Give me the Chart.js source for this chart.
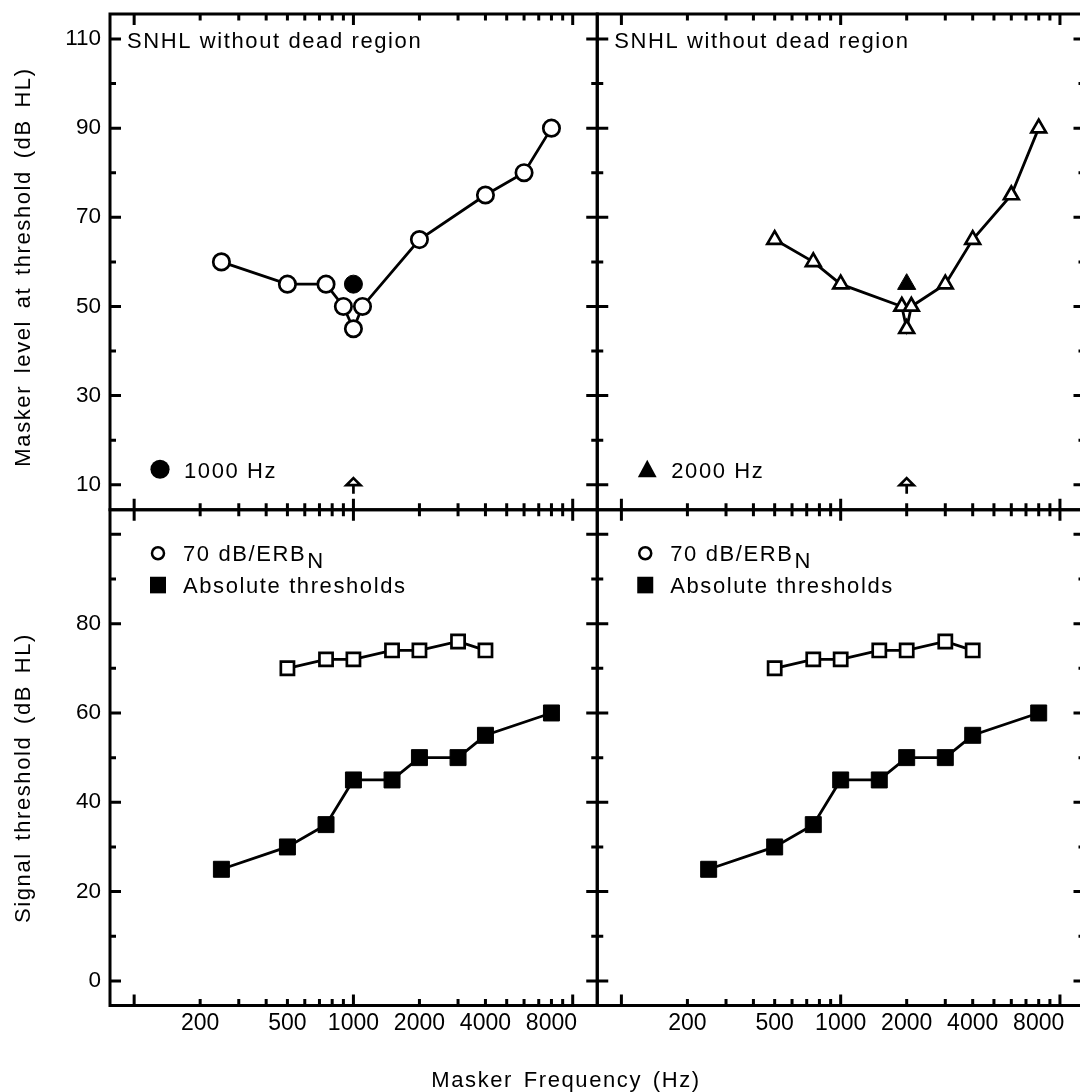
<!DOCTYPE html>
<html><head><meta charset="utf-8">
<script src="https://cdn.jsdelivr.net/npm/chart.js"></script>
<style>
html,body{margin:0;padding:0;background:#fff;overflow:hidden;width:1080px;height:1092px}
#wrap{position:relative;width:1100px;height:1092px;background:#fff}
canvas{display:block}
</style></head>
<body><div id="wrap"><canvas id="c" width="1100" height="1092"></canvas></div>
<script>
// ---------- data ----------
const maskerFreq1k  = [250, 500, 750, 900, 1000, 1100, 2000, 4000, 6000, 8000];
const maskerLevel1k = [60, 55, 55, 50, 45, 50, 65, 75, 80, 90];
const signalFreq1k  = [1000];
const signalLevel1k = [55];

const maskerFreq2k  = [500, 750, 1000, 1900, 2000, 2100, 3000, 4000, 6000, 8000];
const maskerLevel2k = [65, 60, 55, 50, 45, 50, 55, 65, 75, 90];
const signalFreq2k  = [2000];
const signalLevel2k = [55];

const erbFreq      = [500, 750, 1000, 1500, 2000, 3000, 4000];
const erbThreshold = [70, 72, 72, 74, 74, 76, 74];
const absFreq      = [250, 500, 750, 1000, 1500, 2000, 3000, 4000, 8000];
const absThreshold = [25, 30, 35, 45, 45, 50, 50, 55, 60];

// ---------- axes / ticks ----------
const xRange = [77.6, 12940];
const topYRange = [4.4, 115.6];
const bottomYRange = [-5.5, 105.5];
const xTickLabels = [200, 500, 1000, 2000, 4000, 8000];
const xMajorTicks = [100, 1000, 10000];
const xMinorTicks = [200, 300, 400, 500, 600, 700, 800, 900, 2000, 3000, 4000, 5000, 6000, 7000, 8000, 9000];
const topYLabels = [10, 30, 50, 70, 90, 110];
const topYMinor = [20, 40, 60, 80, 100];
const bottomYLabels = [0, 20, 40, 60, 80];
const bottomYMajor = [0, 20, 40, 60, 80, 100];
const bottomYMinor = [10, 30, 50, 70, 90];
const arrowTop = 11.5, arrowBottom = 8.0;

// ---------- texts ----------
const panelTitle = 'SNHL without dead region';
const signalLabels = ['1000 Hz', '2000 Hz'];
const legendErb = '70 dB/ERB';
const legendErbSub = 'N';
const legendAbs = 'Absolute thresholds';
const yTitleTop = 'Masker level at threshold (dB HL)';
const yTitleBottom = 'Signal threshold (dB HL)';
const xTitle = 'Masker Frequency (Hz)';

const FONT = '"Liberation Sans", Arial, sans-serif';

function pts(xs, ys) { return xs.map((x, i) => ({x: x, y: ys[i]})); }

const openCircle = {pointStyle:'circle', pointRadius:8.2, pointBorderWidth:2.7, pointBackgroundColor:'#fff', pointBorderColor:'#000', borderColor:'#000', borderWidth:2.8, tension:0, fill:false};
const filledCircle = {pointStyle:'circle', pointRadius:9, pointBorderWidth:1, pointBackgroundColor:'#000', pointBorderColor:'#000', showLine:false};
const openTri = {pointStyle:'triangle', pointRadius:8.5, pointBorderWidth:2.7, pointBackgroundColor:'#fff', pointBorderColor:'#000', borderColor:'#000', borderWidth:2.8, tension:0, fill:false};
const filledTri = {pointStyle:'triangle', pointRadius:10.5, pointBorderWidth:1, pointBackgroundColor:'#000', pointBorderColor:'#000', showLine:false};
const openSq = {pointStyle:'rect', pointRadius:9.3, pointBorderWidth:2.7, pointBackgroundColor:'#fff', pointBorderColor:'#000', borderColor:'#000', borderWidth:2.8, tension:0, fill:false};
const filledSq = {pointStyle:'rect', pointRadius:11.3, pointBorderWidth:1, pointBackgroundColor:'#000', pointBorderColor:'#000', borderColor:'#000', borderWidth:2.8, tension:0, fill:false};

const datasets = [
  Object.assign({label:'masker 1000', data:pts(maskerFreq1k, maskerLevel1k), xAxisID:'x1', yAxisID:'y1'}, openCircle),
  Object.assign({label:'signal 1000', data:pts(signalFreq1k, signalLevel1k), xAxisID:'x1', yAxisID:'y1'}, filledCircle),
  Object.assign({label:'masker 2000', data:pts(maskerFreq2k, maskerLevel2k), xAxisID:'x2', yAxisID:'y1'}, openTri),
  Object.assign({label:'signal 2000', data:pts(signalFreq2k, signalLevel2k), xAxisID:'x2', yAxisID:'y1'}, filledTri),
  Object.assign({label:'erb L', data:pts(erbFreq, erbThreshold), xAxisID:'x1', yAxisID:'y2'}, openSq),
  Object.assign({label:'abs L', data:pts(absFreq, absThreshold), xAxisID:'x1', yAxisID:'y2'}, filledSq),
  Object.assign({label:'erb R', data:pts(erbFreq, erbThreshold), xAxisID:'x2', yAxisID:'y2'}, openSq),
  Object.assign({label:'abs R', data:pts(absFreq, absThreshold), xAxisID:'x2', yAxisID:'y2'}, filledSq)
];

function xAxis() {
  return {
    type:'logarithmic', position:'bottom', stack:'cols', stackWeight:1,
    min:xRange[0], max:xRange[1], bounds:'data',
    grid:{display:false, drawTicks:false}, border:{display:false},
    ticks:{autoSkip:false, maxRotation:0, minRotation:0, padding:4, color:'#000',
      font:{family:FONT, size:23}, callback:(v) => String(v)},
    afterBuildTicks:(s) => { s.ticks = xTickLabels.map(v => ({value:v})); },
    afterFit:(s) => { s.height = 40; s.paddingLeft = 0; s.paddingRight = 0; s.paddingTop = 0; s.paddingBottom = 0; }
  };
}
function yAxis(range, labels, weight) {
  return {
    type:'linear', position:'left', stack:'rows', stackWeight:1, weight:weight,
    min:range[0], max:range[1], bounds:'data',
    grid:{display:false, drawTicks:false}, border:{display:false},
    ticks:{autoSkip:false, padding:9, color:'#000', font:{family:FONT, size:22.5}, callback:(v) => String(v)},
    afterBuildTicks:(s) => { s.ticks = labels.map(v => ({value:v})); },
    afterFit:(s) => { s.width = 110; s.paddingTop = 0; s.paddingBottom = 0; s.paddingLeft = 0; s.paddingRight = 0; }
  };
}

function txt(ctx, s, x, y, opt) {
  opt = opt || {};
  ctx.save();
  ctx.font = (opt.size || 22) + 'px ' + FONT;
  ctx.fillStyle = '#000';
  ctx.textAlign = opt.align || 'left';
  ctx.textBaseline = 'alphabetic';
  ctx.letterSpacing = (opt.ls != null ? opt.ls : 1.6) + 'px';
  if (opt.ws != null) ctx.wordSpacing = opt.ws + 'px';
  if (opt.rot) { ctx.translate(x, y); ctx.rotate(opt.rot); ctx.fillText(s, 0, 0); }
  else { ctx.fillText(s, x, y); }
  const w = ctx.measureText(s).width;
  ctx.restore();
  return w;
}

const panels = [
  {x:'x1', y:'y1', kind:'top', idx:0, sig:signalFreq1k[0], marker:'circle'},
  {x:'x2', y:'y1', kind:'top', idx:1, sig:signalFreq2k[0], marker:'triangle'},
  {x:'x1', y:'y2', kind:'bottom'},
  {x:'x2', y:'y2', kind:'bottom'}
];

const framePlugin = {
  id:'frame',
  afterDatasetsDraw(chart) {
    const ctx = chart.ctx;
    ctx.save();
    ctx.strokeStyle = '#000';
    ctx.fillStyle = '#000';
    panels.forEach(p => {
      const xs = chart.scales[p.x], ys = chart.scales[p.y];
      const L = xs.left, R = xs.right, T = ys.top, B = ys.bottom;
      const yMaj = p.kind === 'top' ? topYLabels : bottomYMajor;
      const yMin = p.kind === 'top' ? topYMinor : bottomYMinor;
      ctx.lineWidth = 3;
      ctx.lineCap = 'butt';
      ctx.beginPath();
      const xt = (list, len) => list.forEach(v => {
        const px = xs.getPixelForValue(v);
        if (px < L || px > R) return;
        ctx.moveTo(px, T); ctx.lineTo(px, T + len);
        ctx.moveTo(px, B); ctx.lineTo(px, B - len);
      });
      const yt = (list, len) => list.forEach(v => {
        const py = ys.getPixelForValue(v);
        if (py < T || py > B) return;
        ctx.moveTo(L, py); ctx.lineTo(L + len, py);
        ctx.moveTo(R, py); ctx.lineTo(R - len, py);
      });
      xt(xMajorTicks, 11); xt(xMinorTicks, 6.5);
      yt(yMaj, 11); yt(yMin, 6);
      ctx.stroke();
      ctx.lineWidth = 3;
      ctx.strokeRect(L, T, R - L, B - T);

      if (p.kind === 'top') {
        txt(ctx, panelTitle, L + 17, T + 33.5);
        const mx = L + 50;
        if (p.marker === 'circle') {
          ctx.beginPath(); ctx.arc(mx, B - 40.5, 9.6, 0, Math.PI * 2); ctx.fill();
        } else {
          ctx.beginPath(); ctx.moveTo(mx, B - 50); ctx.lineTo(mx + 9.4, B - 32.5); ctx.lineTo(mx - 9.4, B - 32.5); ctx.closePath(); ctx.fill();
        }
        txt(ctx, signalLabels[p.idx], L + 74, B - 32);
        const ax = xs.getPixelForValue(p.sig);
        const ay1 = ys.getPixelForValue(arrowTop), ay2 = ys.getPixelForValue(arrowBottom);
        ctx.lineWidth = 2.7;
        ctx.lineJoin = 'miter';
        ctx.beginPath();
        ctx.moveTo(ax, ay1); ctx.lineTo(ax + 7, ay1 + 7); ctx.lineTo(ax - 7, ay1 + 7); ctx.closePath();
        ctx.moveTo(ax, ay1 + 7); ctx.lineTo(ax, ay2);
        ctx.stroke();
      } else {
        const mx = L + 48;
        ctx.lineWidth = 2.5;
        ctx.beginPath(); ctx.arc(mx, T + 43.5, 6, 0, Math.PI * 2); ctx.stroke();
        const w = txt(ctx, legendErb, L + 73, T + 51);
        txt(ctx, legendErbSub, L + 73 + w + 1, T + 58.5);
        ctx.fillRect(mx - 8, T + 67, 16, 16.6);
        txt(ctx, legendAbs, L + 73, T + 83.3);
      }
    });
    txt(ctx, yTitleTop, 30, 267, {rot:-Math.PI / 2, align:'center', ws:4});
    txt(ctx, yTitleBottom, 30, 778, {rot:-Math.PI / 2, align:'center', ws:4});
    txt(ctx, xTitle, 566, 1087, {align:'center', ws:3});
    ctx.restore();
  }
};

new Chart(document.getElementById('c'), {
  type:'line',
  data:{datasets:datasets},
  options:{
    responsive:false, maintainAspectRatio:false, animation:false, events:[],
    layout:{padding:{left:0, top:14, right:15.5, bottom:46.5}},
    plugins:{legend:{display:false}, tooltip:{enabled:false}, title:{display:false}},
    scales:{
      x1:xAxis(),
      x2:xAxis(),
      y1:yAxis(topYRange, topYLabels, 1),
      y2:yAxis(bottomYRange, bottomYLabels, 0)
    }
  },
  plugins:[framePlugin]
});
</script>
</body></html>
